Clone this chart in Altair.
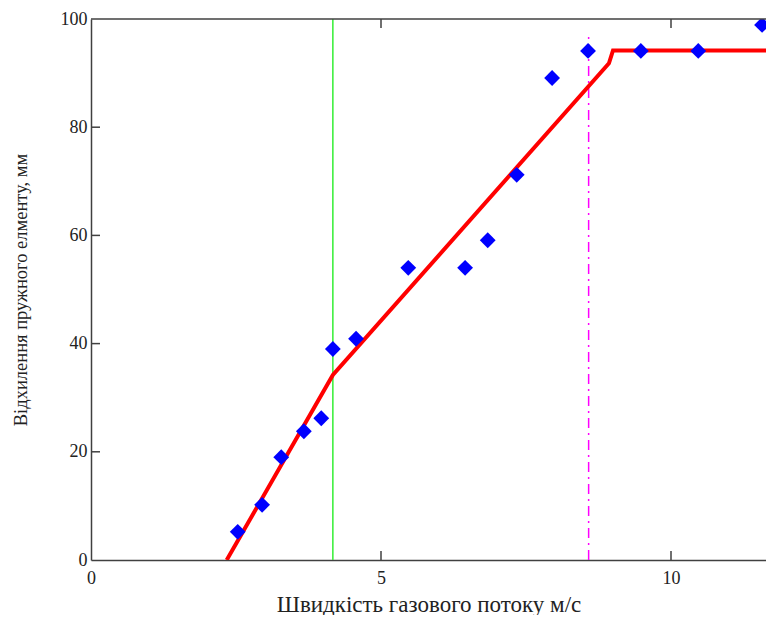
import altair as alt
import pandas as pd

# measured points (blue diamonds)
pt_x = [2.53, 2.95, 3.28, 3.67, 3.97, 4.17, 4.57, 5.47, 6.45, 6.84, 7.34, 7.95, 8.57, 9.48, 10.47, 11.57]
pt_y = [5.2, 10.2, 19.0, 23.8, 26.2, 39.0, 40.9, 54.0, 54.0, 59.1, 71.2, 89.1, 94.1, 94.1, 94.1, 98.9]

# fitted piecewise curve (red)
fit_x = [2.34, 4.17, 8.93, 9.0, 12.0]
fit_y = [0.0, 34.2, 91.8, 94.2, 94.2]

# vertical markers
green_x = [4.17]
magenta_x = [8.58]
magenta_top = [97.6]

x_ticks = [0, 5, 10]
y_ticks = [0, 20, 40, 60, 80, 100]
inner_x_ticks = [5, 10]
inner_y_ticks = [20, 40, 60, 80]

W, H = 675, 541
x_max = W / 58.0
FONT = "Liberation Serif"

pts = pd.DataFrame({"x": pt_x, "y": pt_y})
fit = pd.DataFrame({"x": fit_x, "y": fit_y})
green = pd.DataFrame({"x": green_x})
mag = pd.DataFrame({"x": magenta_x, "y": [0] * len(magenta_x), "y2": magenta_top})

xs = alt.Scale(domain=[0, x_max], nice=False, zero=False)
ys = alt.Scale(domain=[0, 100], nice=False)

xaxis = alt.Axis(values=x_ticks, format="d", tickSize=0, grid=False, domainColor="#404040", domainWidth=1.5,
                 labelFont=FONT, labelFontSize=18, labelColor="#222", labelPadding=9, labelFlush=False,
                 title="Швидкість газового потоку м/с", titleFont=FONT, titleFontSize=23,
                 titleFontWeight="normal", titleColor="#222", titlePadding=6)
yaxis = alt.Axis(values=y_ticks, format="d", tickSize=0, grid=False, domainColor="#404040", domainWidth=1.5,
                 labelFont=FONT, labelFontSize=18, labelColor="#222", labelPadding=4, labelFlush=False,
                 title="Відхилення пружного елменту, мм", titleFont=FONT, titleFontSize=18.5,
                 titleFontWeight="normal", titleColor="#222", titlePadding=30)

green_rule = alt.Chart(green).mark_rule(color="#33EE33", strokeWidth=1.5).encode(
    x=alt.X("x:Q", scale=xs, axis=xaxis),
    y=alt.value(0), y2=alt.value(H))

mag_rule = alt.Chart(mag).mark_rule(color="#FF00FF", strokeWidth=1.5, strokeDash=[10, 5, 2, 5]).encode(
    x=alt.X("x:Q", scale=xs),
    y=alt.Y("y:Q", scale=ys, axis=yaxis), y2="y2:Q")

line = alt.Chart(fit).mark_line(color="#FF0000", strokeWidth=4, clip=True).encode(
    x=alt.X("x:Q", scale=xs), y=alt.Y("y:Q", scale=ys))

points = alt.Chart(pts).mark_point(shape="diamond", filled=True, color="#0000FF", size=250, opacity=1, clip=True).encode(
    x=alt.X("x:Q", scale=xs), y=alt.Y("y:Q", scale=ys))

ytk = alt.Chart(pd.DataFrame({"v": inner_y_ticks})).mark_rule(color="#404040", strokeWidth=1.5).encode(
    y=alt.Y("v:Q", scale=ys), x=alt.value(0), x2=alt.value(9))
xtk_b = alt.Chart(pd.DataFrame({"v": inner_x_ticks})).mark_rule(color="#404040", strokeWidth=1.5).encode(
    x=alt.X("v:Q", scale=xs), y=alt.value(H), y2=alt.value(H - 9))
xtk_t = alt.Chart(pd.DataFrame({"v": inner_x_ticks})).mark_rule(color="#404040", strokeWidth=1.5).encode(
    x=alt.X("v:Q", scale=xs), y=alt.value(0), y2=alt.value(9))
top_border = alt.Chart(pd.DataFrame({"v": [0]})).mark_rule(color="#404040", strokeWidth=1.5).encode(
    y=alt.value(0), x=alt.value(0), x2=alt.value(W))

chart = alt.layer(green_rule, mag_rule, line, points, ytk, xtk_b, xtk_t, top_border).properties(
    width=W, height=H,
    autosize=alt.AutoSizeParams(type="none"),
    padding={"left": 83, "top": 11, "right": 0, "bottom": 55},
    background="white",
).configure_view(stroke=None)

chart.save("out.html", embed_options={"renderer": "svg", "actions": False})
